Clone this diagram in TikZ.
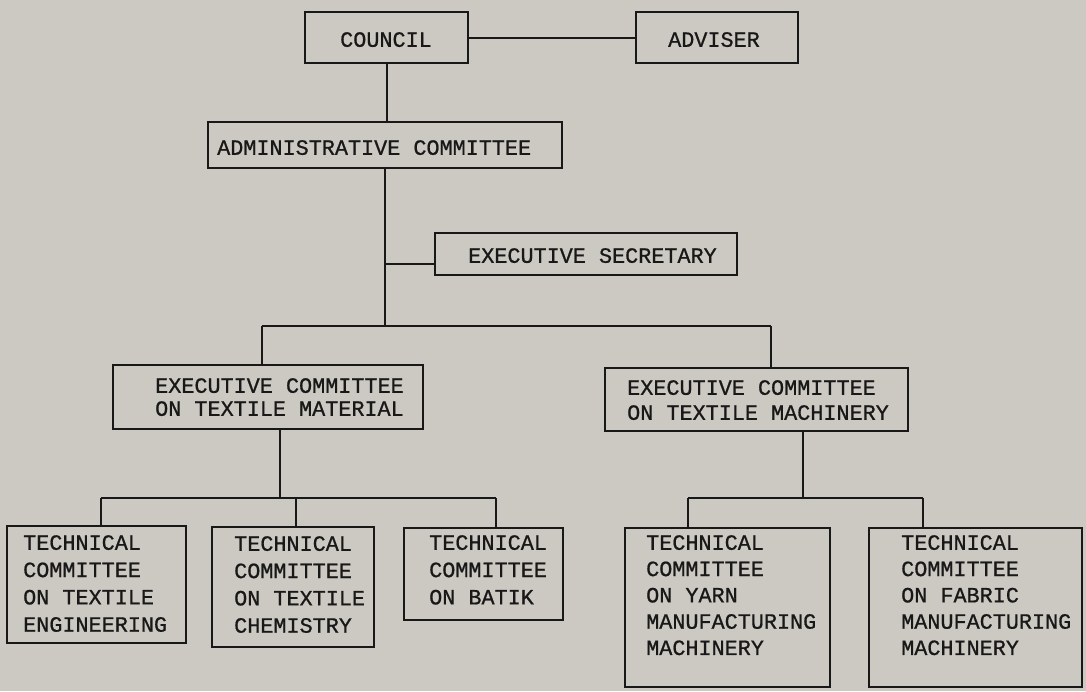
\documentclass[tikz,border=0pt]{standalone}
\usepackage{fontspec}
\newfontfamily\typewriter{Liberation Mono}[FakeBold=0.8]
\definecolor{paper}{RGB}{203,201,193}
\definecolor{ink}{RGB}{24,24,24}
\begin{document}
\begin{tikzpicture}[x=1pt,y=-1pt,
  box/.style={draw=ink, line width=2pt, rectangle, inner sep=0pt},
  txt/.style={font=\typewriter\fontsize{21.8pt}{#1}\selectfont, text=ink,
              align=left, inner sep=0pt, anchor=north west},
  txt/.default=27pt,
  link/.style={draw=ink, line width=2pt}]
% sheet
\fill[paper] (0,0) rectangle (1086,691);
\useasboundingbox (0,0) rectangle (1086,691);

% boxes
\node[box, minimum width=163pt, minimum height=51pt] (council) at (386.5,37.5) {};
\node[box, minimum width=162pt, minimum height=51pt] (adviser) at (717,37.5) {};
\node[box, minimum width=354pt, minimum height=46pt] (admin) at (385,145) {};
\node[box, minimum width=302pt, minimum height=42pt] (sec) at (586,254) {};
\node[box, minimum width=310pt, minimum height=64pt] (matl) at (268,397) {};
\node[box, minimum width=303pt, minimum height=63pt] (mach) at (756.5,399.5) {};
\node[box, minimum width=179pt, minimum height=117pt] (t1) at (96.5,584.5) {};
\node[box, minimum width=162pt, minimum height=120pt] (t2) at (293,587) {};
\node[box, minimum width=159pt, minimum height=92pt] (t3) at (483.5,574) {};
\node[box, minimum width=205pt, minimum height=159pt] (t4) at (727.5,607.5) {};
\node[box, minimum width=213pt, minimum height=159pt] (t5) at (975.5,607.5) {};

% texts
\node[txt] (lcouncil) at (340,32) {COUNCIL};
\node[txt] (ladviser) at (668,32) {ADVISER};
\node[txt] (ladmin) at (217,140) {ADMINISTRATIVE COMMITTEE};
\node[txt] (lsec) at (468,248) {EXECUTIVE SECRETARY};
\node[txt=23pt] (lmatl) at (155,378) {EXECUTIVE COMMITTEE\\ON TEXTILE MATERIAL};
\node[txt=25pt] (lmach) at (627,380) {EXECUTIVE COMMITTEE\\ON TEXTILE MACHINERY};
\node[txt=27.3pt] (lt1) at (23,535) {TECHNICAL\\COMMITTEE\\ON TEXTILE\\ENGINEERING};
\node[txt=27.3pt] (lt2) at (234,536) {TECHNICAL\\COMMITTEE\\ON TEXTILE\\CHEMISTRY};
\node[txt=27.3pt] (lt3) at (429,535) {TECHNICAL\\COMMITTEE\\ON BATIK};
\node[txt=26.3pt] (lt4) at (646,535) {TECHNICAL\\COMMITTEE\\ON YARN\\MANUFACTURING\\MACHINERY};
\node[txt=26.3pt] (lt5) at (901,535) {TECHNICAL\\COMMITTEE\\ON FABRIC\\MANUFACTURING\\MACHINERY};

% junction points of the tree
\coordinate (jA) at (385,326);
\coordinate (jL) at (262,326);
\coordinate (jR) at (771,326);
\coordinate (kM) at (280,498);
\coordinate (kL) at (101,498);
\coordinate (kC) at (296,498);
\coordinate (kR) at (496,498);
\coordinate (mM) at (803,498);
\coordinate (mL) at (688,498);
\coordinate (mR) at (923,498);

% upper connectors
\draw[link] (council.east) -- (adviser.west);
\draw[link] (council.south) -- (council.south |- admin.north);
\draw[link] (admin.south) -- (jA);
\draw[link] ([yshift=-10pt]sec.west) -- ([yshift=-10pt]sec.west -| admin.south);
\draw[link] (jL) -- (jR);
\draw[link] (jL) -- (jL |- matl.north);
\draw[link] (jR) -- (jR |- mach.north);

% textile material branch
\draw[link] (kM |- matl.south) -- (kM);
\draw[link] (kL) -- (kR);
\draw[link] (kL) -- (kL |- t1.north);
\draw[link] (kC) -- (kC |- t2.north);
\draw[link] (kR) -- (kR |- t3.north);

% textile machinery branch
\draw[link] (mM |- mach.south) -- (mM);
\draw[link] (mL) -- (mR);
\draw[link] (mL) -- (mL |- t4.north);
\draw[link] (mR) -- (mR |- t5.north);
\end{tikzpicture}
\end{document}
